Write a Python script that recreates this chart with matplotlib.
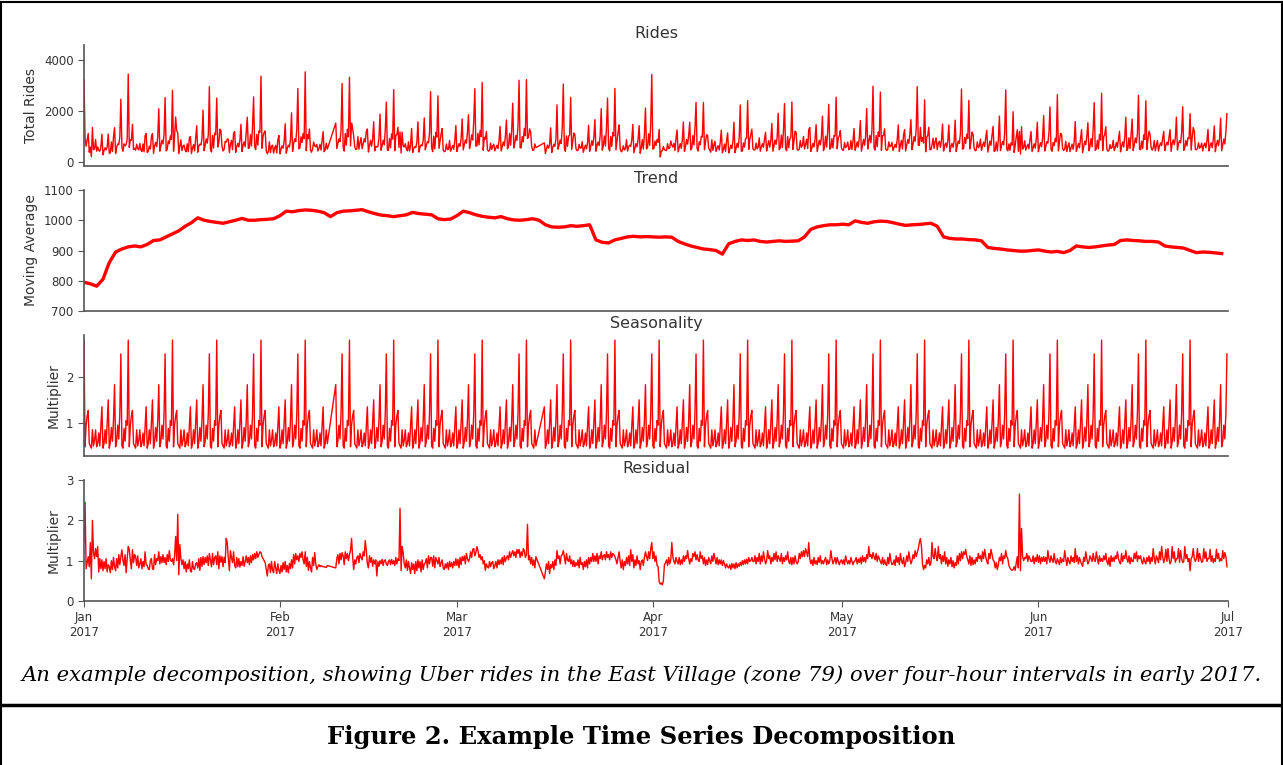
import numpy as np
import pandas as pd
import matplotlib
matplotlib.use("Agg")
import matplotlib.pyplot as plt
import matplotlib.dates as mdates
from matplotlib.lines import Line2D

# seasonal multiplier for one week of 4-hour slots, Sunday 00:00 ... Saturday 20:00
season_week = [
    2.80, 0.48, 0.95, 1.15, 1.27, 0.55,   # Sun
    0.50, 0.45, 0.85, 0.50, 0.62, 0.85,   # Mon
    0.48, 0.55, 0.78, 0.50, 0.92, 1.35,   # Tue
    0.45, 0.55, 0.85, 0.55, 1.00, 1.50,   # Wed
    0.45, 0.58, 0.90, 0.60, 1.05, 1.83,   # Thu
    0.48, 0.60, 0.95, 0.65, 1.20, 2.50,   # Fri
    0.50, 0.45, 0.88, 0.60, 1.05, 0.95,   # Sat
]

# daily moving average, Jan 1 .. Jun 30 2017
trend_daily = [
    795, 790, 782, 805, 860, 895, 905, 912, 915, 912, 920, 933, 935, 945,
    955, 965, 980, 992, 1008, 1000, 996, 993, 990, 995, 1000, 1006, 1000, 1000,
    1002, 1003, 1005, 1015, 1030, 1028, 1032, 1034, 1033, 1030, 1025, 1012, 1025, 1030,
    1031, 1033, 1035, 1028, 1022, 1017, 1015, 1012, 1015, 1018, 1026, 1022, 1020, 1018,
    1005, 1002, 1004, 1015, 1030, 1025, 1018, 1013, 1010, 1008, 1012, 1005, 1001, 1000,
    1002, 1005, 1000, 985, 978, 977, 978, 982, 980, 982, 985, 935, 927, 925,
    935, 940, 945, 947, 945, 946, 945, 944, 945, 944, 930, 922, 915, 910,
    905, 903, 900, 888, 922, 930, 935, 933, 935, 930, 928, 930, 932, 930,
    931, 932, 945, 970, 978, 982, 985, 985, 987, 985, 998, 993, 990, 995,
    997, 996, 992, 987, 983, 985, 986, 988, 990, 980, 945, 940, 938, 938,
    936, 935, 932, 910, 907, 905, 902, 900, 898, 898, 900, 902, 898, 895,
    897, 893, 900, 915, 912, 910, 912, 915, 918, 920, 933, 935, 933, 932,
    930, 930, 928, 915, 912, 910, 908, 900, 893, 895, 894, 892, 890,
]

nan = np.nan
# residual multiplier per 4-hour slot, two days per row (nan = no data)
residual = [
    1.45, 2.45, 0.80, 0.95, 1.10, 0.85, 1.45, 0.55, 2.00, 1.20, 1.05, 1.30,
    1.10, 1.35, 0.72, 1.05, 0.80, 1.02, 0.75, 0.98, 0.80, 1.05, 0.72, 0.90,
    0.85, 0.70, 1.00, 0.78, 1.08, 0.85, 0.75, 1.05, 0.82, 1.15, 0.90, 1.10,
    1.27, 1.00, 0.88, 1.15, 0.70, 1.05, 1.35, 1.28, 1.00, 0.80, 1.27, 0.95,
    1.15, 1.10, 0.88, 1.12, 0.82, 0.92, 1.05, 0.80, 0.98, 0.85, 1.22, 0.90,
    0.88, 0.80, 0.78, 1.00, 1.05, 0.80, 0.78, 1.15, 0.90, 1.05, 1.00, 1.22,
    0.92, 1.10, 0.95, 1.15, 0.95, 1.08, 0.90, 1.15, 0.98, 1.25, 1.02, 0.98,
    1.05, 0.90, 1.12, 1.60, 1.00, 2.15, 0.65, 1.40, 1.05, 0.90, 1.02, 0.80,
    0.98, 0.72, 0.92, 0.80, 1.02, 0.75, 0.72, 0.98, 0.80, 0.78, 0.92, 0.95,
    0.82, 1.05, 0.76, 1.08, 0.86, 1.10, 0.90, 1.08, 0.95, 1.12, 0.88, 1.18,
    1.02, 0.85, 1.18, 0.90, 1.08, 1.12, 0.90, 1.22, 0.80, 1.12, 0.96, 1.10,
    0.85, 1.08, 0.95, 1.55, 1.45, 1.05, 0.75, 1.25, 1.08, 0.95, 1.22, 0.88,
    0.82, 1.08, 0.85, 1.05, 0.84, 0.98, 0.88, 1.10, 0.86, 0.98, 1.12, 0.95,
    1.08, 0.90, 1.12, 0.95, 1.15, 1.02, 1.18, 1.05, 1.22, 1.08, 1.15, 1.22,
    1.20, 1.10, 1.05, 1.00, 0.95, 0.78, 0.62, 0.88, 0.92, 0.70, 0.98, 0.76,
    0.70, 0.98, 0.82, 0.68, 0.92, 0.76, 0.68, 0.88, 0.72, 0.95, 0.78, 0.98,
    0.72, 0.88, 0.70, 0.93, 0.80, 1.02, 0.82, 1.15, 0.92, 1.18, 1.02, 1.12,
    0.98, 1.18, 1.08, 1.22, 1.02, 0.92, 1.22, 0.86, 1.08, 0.76, 0.98, 0.82,
    0.72, 1.08, 0.88, 1.20, 0.92, 0.78, 0.85, 0.90, 0.85, 0.88, 0.86, 0.85,
    0.85, 0.84, 0.83, 0.88, nan, nan, nan, nan, nan, nan, nan, 0.82,
    1.05, 1.15, 0.92, 1.18, 1.02, 1.20, 1.12, 0.90, 1.22, 1.05, 1.18, 1.00,
    1.15, 1.25, 1.55, 1.10, 0.78, 1.02, 0.92, 1.08, 1.12, 0.95, 1.18, 1.08,
    1.02, 1.22, 1.12, 1.50, 1.25, 0.92, 0.82, 1.12, 0.96, 1.08, 0.86, 1.02,
    0.92, 1.02, 0.62, 0.98, 0.86, 1.00, 0.92, 1.03, 0.88, 1.00, 1.02, 0.92,
    0.88, 0.98, 1.02, 0.90, 1.03, 0.92, 1.00, 0.88, 1.08, 0.92, 1.05, 1.00,
    2.30, 0.75, 1.35, 1.20, 0.92, 0.82, 1.02, 0.76, 0.98, 0.82, 0.68, 0.95,
    0.78, 0.92, 0.68, 0.98, 0.75, 1.02, 0.82, 0.98, 0.72, 1.02, 0.78, 0.92,
    0.95, 1.05, 0.82, 1.12, 0.92, 1.08, 1.08, 0.86, 1.12, 0.82, 1.08, 1.00,
    0.92, 1.08, 0.85, 0.95, 1.02, 0.82, 0.78, 0.92, 0.82, 0.95, 0.78, 0.98,
    0.85, 0.95, 0.82, 0.98, 0.88, 1.05, 0.88, 1.03, 0.82, 1.08, 0.90, 1.10,
    1.00, 1.12, 0.92, 1.18, 1.05, 0.98, 1.05, 1.22, 1.08, 1.28, 1.30, 1.12,
    1.20, 1.35, 1.25, 1.08, 1.15, 1.02, 1.10, 0.92, 1.00, 0.76, 0.92, 0.85,
    0.82, 0.98, 0.85, 0.95, 0.98, 0.80, 0.88, 0.98, 0.82, 1.02, 0.90, 1.02,
    0.92, 1.08, 0.90, 1.12, 0.98, 1.08, 1.12, 1.02, 1.22, 1.08, 1.18, 1.25,
    1.12, 1.22, 1.08, 1.28, 1.18, 1.28, 1.08, 1.22, 1.12, 1.30, 1.25, 1.08,
    1.15, 1.90, 1.02, 1.12, 0.92, 1.08, 0.88, 1.02, 0.82, 1.10, nan, nan,
    nan, nan, nan, nan, nan, 0.55, 0.72, 0.92, 0.78, 0.98, 0.68, 0.90,
    0.82, 0.98, 0.78, 1.02, 0.88, 1.25, 1.05, 1.12, 0.92, 1.12, 1.15, 1.25,
    1.10, 0.92, 1.18, 1.02, 0.98, 1.12, 0.92, 1.02, 0.86, 1.00, 0.85, 0.95,
    0.88, 1.02, 0.82, 1.08, 0.90, 0.95, 0.78, 0.98, 0.85, 1.02, 0.82, 1.08,
    0.92, 1.08, 0.98, 1.18, 0.98, 1.12, 0.98, 1.18, 0.92, 1.12, 1.05, 1.22,
    1.02, 1.12, 1.15, 1.02, 1.22, 1.08, 1.15, 1.02, 1.22, 1.08, 1.18, 1.15,
    1.10, 1.02, 0.92, 1.08, 1.22, 0.98, 0.82, 1.02, 0.78, 0.98, 0.88, 1.08,
    0.92, 1.12, 0.88, 1.27, 0.98, 1.15, 0.82, 1.02, 0.88, 1.12, 0.92, 1.00,
    0.78, 0.98, 1.02, 0.88, 1.08, 1.22, 1.10, 1.00, 1.22, 1.05, 1.30, 1.45,
    1.05, 1.22, 0.98, 1.12, 0.88, 0.85, 0.48, 0.42, 0.45, 0.40, 0.50, 0.90,
    0.95, 1.02, 0.88, 1.08, 0.92, 1.02, 1.45, 1.10, 0.98, 0.92, 1.08, 0.98,
    0.92, 1.08, 0.90, 1.02, 0.92, 1.12, 0.98, 1.12, 1.05, 1.25, 1.05, 0.92,
    1.05, 0.98, 1.18, 1.10, 1.22, 1.02, 1.15, 1.02, 0.98, 1.22, 1.05, 1.12,
    0.92, 1.08, 0.88, 1.02, 0.90, 1.08, 1.00, 0.92, 1.12, 0.98, 1.18, 1.05,
    0.92, 1.08, 0.90, 1.02, 0.92, 1.02, 0.88, 1.00, 0.92, 0.82, 0.92, 0.85,
    0.82, 0.90, 0.78, 0.93, 0.82, 0.92, 0.80, 0.95, 0.82, 0.92, 0.86, 0.96,
    0.88, 1.00, 0.90, 1.02, 0.92, 1.04, 0.92, 1.08, 0.98, 1.00, 1.08, 0.98,
    0.98, 1.12, 0.92, 1.08, 0.98, 1.18, 0.92, 1.12, 0.98, 1.22, 1.05, 0.92,
    1.00, 1.25, 1.05, 1.12, 0.92, 1.08, 0.98, 1.18, 1.02, 1.22, 0.98, 1.12,
    1.05, 0.98, 1.18, 0.92, 1.08, 0.98, 1.12, 1.02, 1.22, 0.98, 0.92, 1.08,
    0.90, 1.08, 0.92, 1.12, 0.98, 0.92, 0.98, 1.18, 1.05, 1.22, 1.10, 1.25,
    1.10, 1.30, 1.20, 1.10, 1.45, 1.05, 0.92, 1.02, 0.88, 1.08, 0.92, 1.00,
    0.90, 1.08, 0.96, 1.12, 0.92, 1.00, 0.92, 1.02, 1.08, 0.90, 1.02, 0.92,
    1.00, 1.25, 1.05, 0.92, 1.00, 1.08, 0.92, 1.08, 0.98, 0.90, 0.98, 1.02,
    0.92, 1.02, 0.90, 1.12, 1.00, 0.92, 1.00, 0.92, 1.08, 0.98, 0.90, 0.98,
    1.00, 1.08, 0.92, 1.04, 0.95, 1.08, 0.92, 1.12, 0.98, 1.08, 0.96, 1.15,
    1.05, 1.35, 1.10, 1.15, 1.05, 1.20, 1.10, 1.02, 1.18, 0.98, 1.12, 1.05,
    0.98, 0.92, 1.08, 0.90, 1.02, 0.92, 0.88, 1.08, 0.92, 1.18, 1.00, 0.90,
    0.92, 1.02, 0.88, 1.12, 0.96, 1.08, 0.90, 1.18, 1.00, 0.92, 1.08, 0.85,
    0.95, 1.12, 0.98, 1.22, 1.05, 0.92, 1.00, 1.15, 1.05, 1.25, 1.10, 1.20,
    1.30, 1.45, 1.55, 1.35, 0.92, 0.78, 0.88, 0.82, 1.02, 0.92, 1.08, 0.88,
    0.95, 1.45, 1.10, 1.05, 1.30, 1.10, 1.00, 1.35, 1.05, 1.15, 0.92, 1.12,
    0.98, 1.22, 0.92, 1.08, 0.86, 1.02, 0.92, 1.08, 0.85, 1.00, 0.82, 0.95,
    0.88, 1.12, 0.92, 1.18, 1.00, 1.22, 1.05, 1.22, 1.15, 1.28, 1.10, 1.02,
    0.92, 1.12, 0.88, 1.08, 0.90, 1.02, 0.92, 1.08, 0.98, 1.18, 1.05, 1.12,
    0.98, 1.22, 1.05, 1.28, 1.10, 0.98, 0.92, 1.18, 1.05, 1.28, 1.15, 1.02,
    0.98, 0.82, 0.95, 0.78, 0.90, 1.08, 1.00, 1.18, 0.92, 1.12, 1.05, 1.25,
    1.10, 1.05, 0.88, 0.82, 0.78, 0.76, 0.78, 0.85, 0.76, 0.95, 1.10, 0.82,
    2.65, 0.75, 1.80, 1.10, 1.00, 1.08, 1.05, 1.18, 0.98, 1.12, 1.05, 0.98,
    0.98, 1.12, 0.92, 1.08, 0.98, 1.15, 0.96, 1.12, 0.92, 1.08, 0.98, 1.10,
    0.98, 1.08, 0.92, 1.25, 1.05, 0.96, 1.12, 1.02, 0.96, 1.18, 0.98, 0.92,
    1.05, 0.98, 0.90, 1.08, 0.95, 1.04, 0.98, 1.25, 1.05, 0.88, 1.08, 0.98,
    0.92, 1.12, 0.98, 1.08, 0.95, 1.30, 0.98, 1.12, 0.92, 1.08, 0.98, 0.92,
    0.86, 1.08, 0.98, 1.22, 1.05, 0.92, 0.98, 1.12, 1.05, 0.98, 1.18, 1.02,
    0.98, 1.22, 1.05, 0.92, 1.12, 0.98, 1.05, 0.98, 1.12, 1.02, 1.18, 0.98,
    0.90, 1.08, 0.86, 1.12, 0.98, 1.08, 0.98, 1.12, 1.05, 1.22, 1.05, 0.96,
    0.92, 1.18, 0.98, 1.12, 1.05, 1.25, 1.05, 0.96, 1.12, 0.92, 1.08, 0.98,
    0.98, 1.18, 1.05, 1.22, 0.98, 1.12, 1.05, 1.12, 0.98, 0.92, 1.08, 0.98,
    0.92, 1.08, 0.98, 1.12, 0.92, 1.08, 0.98, 1.30, 1.05, 0.92, 1.12, 1.05,
    0.95, 1.22, 1.02, 1.35, 1.10, 0.95, 1.05, 1.28, 0.98, 1.30, 1.05, 0.92,
    0.98, 1.35, 1.05, 1.22, 0.96, 1.05, 1.05, 1.30, 0.96, 1.25, 1.05, 0.95,
    0.98, 1.35, 1.05, 1.15, 0.98, 1.05, 0.75, 1.05, 1.10, 1.30, 1.05, 0.98,
    1.05, 1.30, 0.98, 1.18, 1.05, 0.96, 0.98, 1.30, 1.05, 1.22, 0.98, 1.05,
    1.05, 1.28, 0.98, 1.12, 0.95, 1.05, 0.98, 1.28, 1.05, 1.18, 0.98, 1.05,
    1.00, 1.25, 1.05, 1.20, 1.10, 0.85,
]

titles = ["Rides", "Trend", "Seasonality", "Residual"]
ylabels = ["Total Rides", "Moving Average", "Multiplier", "Multiplier"]
caption = ("An example decomposition, showing Uber rides in the East Village "
           "(zone 79) over four-hour intervals in early 2017.")
fig_title = "Figure 2. Example Time Series Decomposition"

resid = np.array(residual, dtype=float)
times = pd.date_range("2017-01-01", periods=len(resid), freq="4h")
days = pd.date_range("2017-01-01", periods=len(trend_daily), freq="D")
season = np.tile(season_week, len(trend_daily) // 7 + 1)[:len(resid)]
trend4h = np.repeat(trend_daily, 6)
rides = trend4h * season * resid      # multiplicative decomposition
ok = ~np.isnan(resid)

txt = "#333333"
plt.rcParams["font.family"] = "DejaVu Sans"
fig = plt.figure(figsize=(12.83, 7.65), dpi=100)

left, width, height = 84 / 1283, 1144 / 1283, 121 / 765
tops = [45, 190, 335, 480]
axes = [fig.add_axes([left, 1 - (t + 121) / 765, width, height]) for t in tops]

axes[0].plot(times[ok], rides[ok], color="red", lw=1)
axes[1].plot(days, trend_daily, color="red", lw=2.4)
axes[2].plot(times[ok], season[ok], color="red", lw=1)
axes[3].plot(times[ok], resid[ok], color="red", lw=1)

axes[0].set_ylim(-170, 4590)
axes[0].set_yticks([0, 2000, 4000])
axes[1].set_ylim(700, 1100)
axes[1].set_yticks([700, 800, 900, 1000, 1100])
axes[2].set_ylim(0.28, 2.91)
axes[2].set_yticks([1, 2])
axes[3].set_ylim(0, 3)
axes[3].set_yticks([0, 1, 2, 3])

for i, ax in enumerate(axes):
    ax.set_xlim(pd.Timestamp("2017-01-01"), pd.Timestamp("2017-07-01"))
    ax.set_title(titles[i], fontsize=11.5, color=txt, pad=5)
    ax.set_ylabel(ylabels[i], fontsize=10, color=txt)
    for s in ["top", "right"]:
        ax.spines[s].set_visible(False)
    for s in ["left", "bottom"]:
        ax.spines[s].set_color("#555555")
        ax.spines[s].set_linewidth(1.2)
    ax.tick_params(axis="y", labelsize=8.5, colors=txt, length=4, color="#555555")
    ax.xaxis.set_major_locator(mdates.MonthLocator())
    if i < 3:
        ax.tick_params(axis="x", bottom=False, labelbottom=False)
    else:
        ax.xaxis.set_major_formatter(mdates.DateFormatter("%b\n%Y"))
        ax.tick_params(axis="x", labelsize=8.5, colors=txt, length=4, color="#555555")
        for lab in ax.get_xticklabels():
            lab.set_horizontalalignment("center")

fig.text(0.5, 1 - 675 / 765, caption, ha="center", va="center",
         fontsize=15.2, style="italic", family="DejaVu Serif", color="black")
fig.text(0.5, 1 - 737 / 765, fig_title, ha="center", va="center",
         fontsize=17.5, weight="bold", family="DejaVu Serif", color="black")

# frame around the figure and the caption divider
for xs, ys, w in [([0.001, 0.999], [0.998, 0.998], 1.5),
                  ([0.001, 0.001], [0, 0.998], 1.5),
                  ([0.999, 0.999], [0, 0.998], 1.5),
                  ([0.001, 0.999], [1 - 705 / 765, 1 - 705 / 765], 2.5)]:
    fig.add_artist(Line2D(xs, ys, color="black", lw=w, transform=fig.transFigure))

fig.savefig("out.png", dpi=100)
